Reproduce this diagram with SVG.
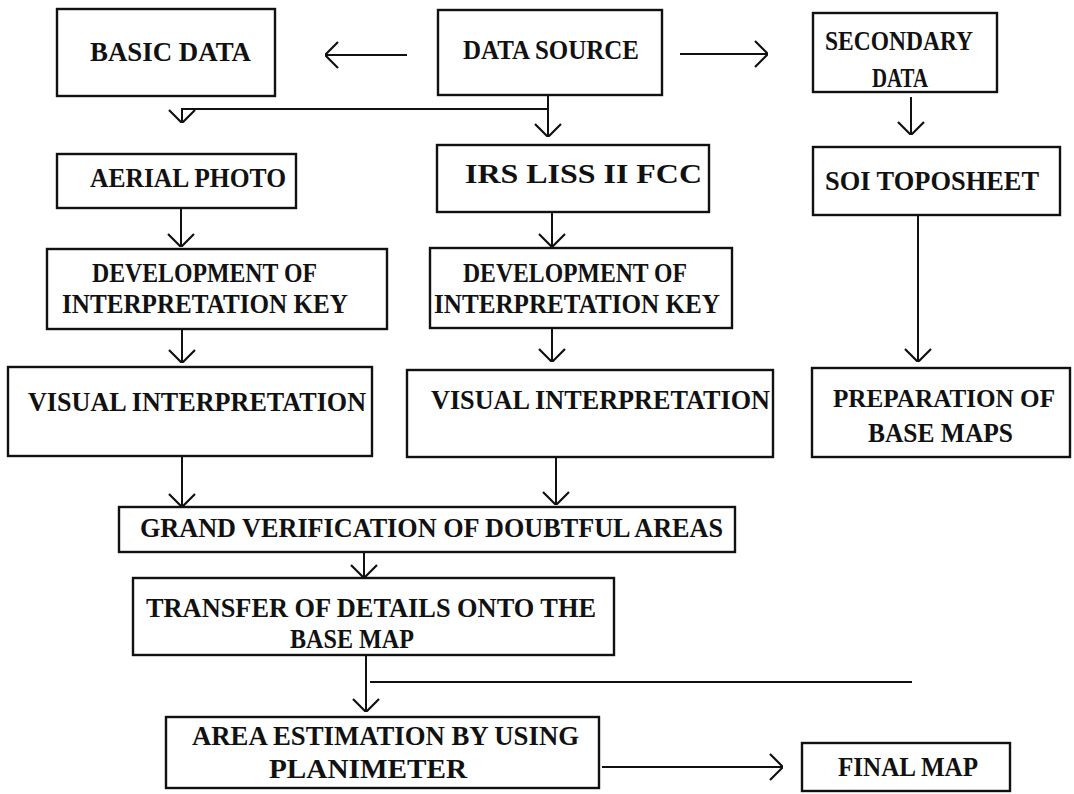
<svg xmlns="http://www.w3.org/2000/svg" width="1074" height="794" viewBox="0 0 1074 794">
<style>
.box{fill:none;stroke:#111;stroke-width:2.4}
.t{font-family:"Liberation Serif","Times New Roman",serif;font-size:28px;font-weight:bold;fill:#111;text-anchor:start}
.s{font-size:25px}
.c{fill:none;stroke:#111;stroke-width:2}
</style>
<defs>
<marker id="ah" viewBox="0 0 14 28" refX="14" refY="14" markerWidth="14" markerHeight="28" markerUnits="userSpaceOnUse" orient="auto">
<path d="M1,1 L14,14 L1,27" fill="none" stroke="#111" stroke-width="2.2"/>
</marker>
</defs>
<rect width="1074" height="794" fill="#fff"/>

<g id="basic-data"><rect class="box" x="57" y="9" width="218" height="87"/><text class="t" x="90" y="61" textLength="161" lengthAdjust="spacingAndGlyphs">BASIC DATA</text></g>
<g id="data-source"><rect class="box" x="438" y="10" width="224" height="85"/><text class="t" x="463" y="59" textLength="176" lengthAdjust="spacingAndGlyphs">DATA SOURCE</text></g>
<g id="secondary-data"><rect class="box" x="813" y="13" width="184" height="79"/><text class="t" x="825" y="50" textLength="148" lengthAdjust="spacingAndGlyphs">SECONDARY</text><text class="t" x="872" y="87" textLength="56" lengthAdjust="spacingAndGlyphs">DATA</text></g>
<g id="aerial-photo"><rect class="box" x="57" y="154" width="239" height="54"/><text class="t" x="90" y="187" textLength="196" lengthAdjust="spacingAndGlyphs">AERIAL PHOTO</text></g>
<g id="irs"><rect class="box" x="437" y="145" width="272" height="67"/><text class="t" x="465" y="183" textLength="237" lengthAdjust="spacingAndGlyphs">IRS LISS II FCC</text></g>
<g id="soi"><rect class="box" x="813" y="147" width="247" height="68"/><text class="t" x="825" y="190" textLength="214" lengthAdjust="spacingAndGlyphs">SOI TOPOSHEET</text></g>
<g id="dev-left"><rect class="box" x="47" y="249" width="340" height="80"/><text class="t" x="92" y="282" textLength="225" lengthAdjust="spacingAndGlyphs">DEVELOPMENT OF</text><text class="t" x="62" y="313" textLength="286" lengthAdjust="spacingAndGlyphs">INTERPRETATION KEY</text></g>
<g id="dev-right"><rect class="box" x="430" y="248" width="302" height="80"/><text class="t" x="463" y="282" textLength="224" lengthAdjust="spacingAndGlyphs">DEVELOPMENT OF</text><text class="t" x="434" y="313" textLength="286" lengthAdjust="spacingAndGlyphs">INTERPRETATION KEY</text></g>
<g id="visual-left"><rect class="box" x="8" y="367" width="364" height="89"/><text class="t" x="28" y="411" textLength="338" lengthAdjust="spacingAndGlyphs">VISUAL INTERPRETATION</text></g>
<g id="visual-right"><rect class="box" x="407" y="370" width="366" height="87"/><text class="t" x="431" y="409" textLength="339" lengthAdjust="spacingAndGlyphs">VISUAL INTERPRETATION</text></g>
<g id="prep-base-maps"><rect class="box" x="812" y="368" width="258" height="89"/><text class="t s" x="833" y="407" textLength="222" lengthAdjust="spacingAndGlyphs">PREPARATION OF</text><text class="t" x="868" y="442" textLength="145" lengthAdjust="spacingAndGlyphs">BASE MAPS</text></g>
<g id="grand-verification"><rect class="box" x="119" y="507" width="616" height="45"/><text class="t" x="140" y="537" textLength="583" lengthAdjust="spacingAndGlyphs">GRAND VERIFICATION OF DOUBTFUL AREAS</text></g>
<g id="transfer"><rect class="box" x="133" y="578" width="481" height="77"/><text class="t" x="146" y="617" textLength="450" lengthAdjust="spacingAndGlyphs">TRANSFER OF DETAILS ONTO THE</text><text class="t" x="290" y="648" textLength="124" lengthAdjust="spacingAndGlyphs">BASE MAP</text></g>
<g id="area-estimation"><rect class="box" x="166" y="717" width="433" height="71"/><text class="t" x="192" y="745" textLength="387" lengthAdjust="spacingAndGlyphs">AREA ESTIMATION BY USING</text><text class="t" x="269" y="778" textLength="198" lengthAdjust="spacingAndGlyphs">PLANIMETER</text></g>
<g id="final-map"><rect class="box" x="802" y="743" width="208" height="48"/><text class="t" x="838" y="776" textLength="140" lengthAdjust="spacingAndGlyphs">FINAL MAP</text></g>

<g id="connectors">
<line class="c" x1="407" y1="55" x2="325" y2="55" marker-end="url(#ah)"/>
<line class="c" x1="680" y1="54" x2="768" y2="54" marker-end="url(#ah)"/>
<polyline class="c" points="548,109 182,109 182,123" marker-end="url(#ah)"/>
<line class="c" x1="548" y1="95" x2="548" y2="137" marker-end="url(#ah)"/>
<line class="c" x1="911" y1="97" x2="911" y2="135" marker-end="url(#ah)"/>
<line class="c" x1="181" y1="208" x2="181" y2="247" marker-end="url(#ah)"/>
<line class="c" x1="552" y1="212" x2="552" y2="247" marker-end="url(#ah)"/>
<line class="c" x1="918" y1="215" x2="918" y2="362" marker-end="url(#ah)"/>
<line class="c" x1="182" y1="329" x2="182" y2="363" marker-end="url(#ah)"/>
<line class="c" x1="552" y1="328" x2="552" y2="362" marker-end="url(#ah)"/>
<line class="c" x1="182" y1="456" x2="182" y2="507" marker-end="url(#ah)"/>
<line class="c" x1="556" y1="457" x2="556" y2="505" marker-end="url(#ah)"/>
<line class="c" x1="364" y1="552" x2="364" y2="578" marker-end="url(#ah)"/>
<line class="c" x1="366" y1="655" x2="366" y2="712" marker-end="url(#ah)"/>
<line class="c" x1="370" y1="682" x2="912" y2="682"/>
<line class="c" x1="602" y1="767" x2="783" y2="767" marker-end="url(#ah)"/>
</g>
</svg>
